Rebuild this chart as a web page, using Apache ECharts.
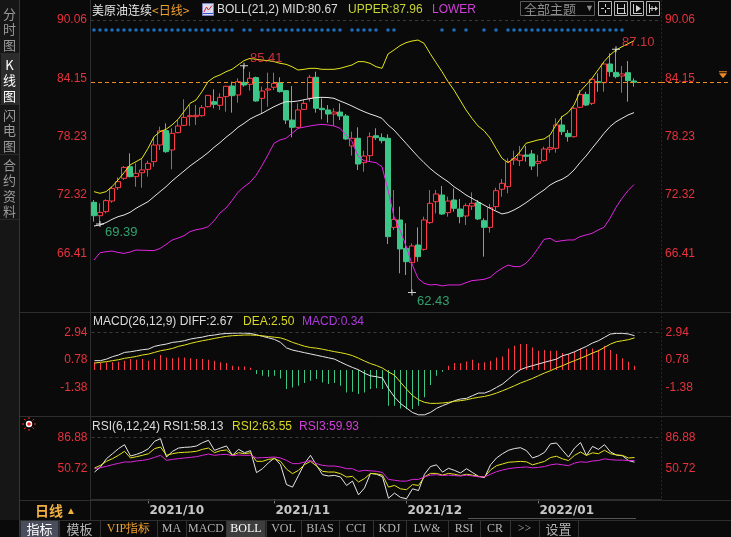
<!DOCTYPE html>
<html><head><meta charset="utf-8">
<script src="https://cdn.jsdelivr.net/npm/echarts@6/dist/echarts.min.js"></script>
<style>html,body{margin:0;padding:0;background:#0a0a0a;}#c{width:731px;height:537px;}</style>
</head><body><div id="c"></div>
<script>
// ---------------- DATA ----------------
const dates = [
 '2021/09/20','2021/09/21','2021/09/22','2021/09/23','2021/09/24','2021/09/27','2021/09/28','2021/09/29','2021/09/30',
 '2021/10/01','2021/10/04','2021/10/05','2021/10/06','2021/10/07','2021/10/08','2021/10/11','2021/10/12','2021/10/13','2021/10/14','2021/10/15',
 '2021/10/18','2021/10/19','2021/10/20','2021/10/21','2021/10/22','2021/10/25','2021/10/26','2021/10/27','2021/10/28','2021/10/29',
 '2021/11/01','2021/11/02','2021/11/03','2021/11/04','2021/11/05','2021/11/08','2021/11/09','2021/11/10','2021/11/11','2021/11/12',
 '2021/11/15','2021/11/16','2021/11/17','2021/11/18','2021/11/19','2021/11/22','2021/11/23','2021/11/24','2021/11/25','2021/11/26',
 '2021/11/29','2021/11/30',
 '2021/12/01','2021/12/02','2021/12/03','2021/12/06','2021/12/07','2021/12/08','2021/12/09','2021/12/10','2021/12/13','2021/12/14',
 '2021/12/15','2021/12/16','2021/12/17','2021/12/20','2021/12/21','2021/12/22','2021/12/23','2021/12/27','2021/12/28','2021/12/29',
 '2021/12/30','2021/12/31',
 '2022/01/03','2022/01/04','2022/01/05','2022/01/06','2022/01/07','2022/01/10','2022/01/11','2022/01/12','2022/01/13','2022/01/14',
 '2022/01/17','2022/01/18','2022/01/19','2022/01/20','2022/01/21','2022/01/24','2022/01/25'
];
// [open, close, low, high]
const candles = [
 [71.58,70.22,69.62,71.81],[70.22,70.56,69.39,71.48],[70.63,71.75,70.46,71.88],[71.71,72.99,71.54,73.16],[73.06,73.67,72.83,74.11],
 [74.01,75.12,73.84,75.26],[75.19,74.18,74.11,76.54],[74.18,74.52,73.16,75.53],[74.58,74.86,73.06,76.04],[74.92,75.53,74.18,75.80],
 [75.70,77.39,75.19,78.23],[77.39,78.81,76.88,79.25],[78.84,76.71,76.60,79.59],[76.88,78.57,74.92,79.08],[78.64,79.32,78.57,79.92],
 [79.38,80.19,79.30,82.02],[80.26,80.36,79.32,81.44],[80.26,80.40,79.42,81.44],[80.36,81.17,80.26,81.44],[81.27,82.42,81.20,82.46],
 [81.78,81.51,81.11,83.03],[81.41,82.22,80.94,82.63],[82.29,83.34,80.77,83.40],[83.37,82.39,80.67,83.81],[82.46,83.81,81.68,84.15],
 [83.74,83.47,83.30,85.41],[83.54,84.15,82.90,84.82],[84.22,81.85,81.78,84.32],[82.12,82.86,80.53,83.30],[82.96,83.07,81.27,84.72],
 [83.24,83.64,82.96,84.72],[83.71,82.80,82.70,84.25],[82.90,79.92,79.52,82.96],[79.92,79.18,78.17,83.37],[79.18,80.94,79.08,81.61],
 [81.00,81.61,80.94,81.95],[82.12,84.25,81.78,84.49],[84.25,81.11,80.67,84.82],[81.11,80.97,79.99,82.12],[80.94,80.53,79.65,81.44],
 [80.53,80.73,79.32,81.11],[80.73,80.33,79.92,81.61],[80.33,78.00,77.90,80.53],[77.29,78.07,76.31,78.74],[78.07,75.46,74.85,79.18],
 [75.60,76.27,74.68,76.81],[76.31,78.23,75.70,78.67],[78.33,78.13,77.90,79.08],[78.13,77.83,77.56,78.57],[78.07,68.10,67.35,78.47],
 [69.04,69.85,68.77,72.83],[69.79,66.85,64.38,71.14],[66.91,65.56,64.21,69.45],[65.46,67.15,62.43,67.42],[67.25,66.07,65.56,69.04],
 [66.81,69.79,66.68,70.12],[69.52,71.48,69.38,72.83],[71.64,72.42,70.46,72.83],[72.32,70.39,70.30,73.23],[70.53,71.71,70.12,72.15],
 [71.81,70.97,70.63,72.99],[70.90,70.12,69.45,71.92],[70.19,71.24,69.28,71.48],[71.20,71.48,70.80,72.59],[71.54,69.89,69.79,71.81],
 [69.72,69.04,66.07,69.96],[69.04,71.04,68.50,71.41],[71.14,72.76,70.80,73.06],[72.90,73.50,72.15,73.94],[73.17,75.70,72.49,76.04],
 [75.87,76.00,75.36,76.81],[75.80,76.37,75.26,77.29],[76.37,76.24,75.70,77.29],[76.48,75.26,74.85,76.88],[75.53,75.73,74.18,76.37],
 [75.80,76.98,75.70,77.22],[76.95,77.12,76.61,78.40],[77.05,79.42,76.61,80.09],[79.42,78.74,78.40,80.33],[78.57,78.23,77.73,78.91],
 [78.23,81.11,78.15,81.27],[81.21,82.52,81.11,82.96],[82.52,81.44,81.34,82.79],[81.61,84.05,81.44,84.15],[83.81,83.71,82.79,84.65],
 [83.71,85.60,82.79,85.77],[85.60,84.82,84.32,86.68],[84.75,84.32,84.15,87.10],[84.38,84.59,82.69,85.40],[84.72,83.91,81.78,85.90],
 [83.88,83.75,83.30,84.15]
];
const bollUpper = [
 72.66,72.49,72.66,73.16,73.84,74.58,75.36,75.70,76.04,77.05,
 78.23,78.74,78.98,79.42,79.99,80.77,81.61,81.95,82.80,83.81,
 84.25,84.49,84.82,85.06,85.50,85.94,86.17,86.07,86.00,85.94,
 85.84,85.67,85.57,85.33,84.99,85.06,85.16,85.16,85.06,85.06,
 85.06,85.16,85.33,85.50,85.84,85.84,85.67,85.33,85.16,86.61,
 87.02,87.46,87.76,87.93,88.03,87.70,86.68,85.74,84.82,83.81,
 82.96,81.95,80.94,80.09,79.32,78.84,78.10,77.05,76.04,75.60,
 76.04,76.71,77.56,77.73,77.90,78.00,78.40,79.42,80.26,80.67,
 81.44,82.80,83.47,84.15,84.99,85.84,86.51,87.02,87.35,87.65,87.96
];
const bollMid = [
 69.18,69.28,69.52,69.85,70.12,70.29,70.56,70.97,71.31,71.64,
 72.15,72.66,73.16,73.74,74.25,74.75,75.26,75.70,76.14,76.61,
 77.15,77.63,78.17,78.64,79.18,79.58,80.02,80.33,80.60,80.94,
 81.27,81.55,81.78,81.78,81.85,81.98,82.09,82.20,82.22,82.20,
 82.12,81.85,81.61,81.34,81.04,80.77,80.53,80.33,80.09,79.42,
 78.91,78.23,77.56,76.88,76.21,75.60,75.02,74.52,74.08,73.67,
 73.16,72.76,72.32,71.98,71.64,71.30,70.97,70.68,70.40,70.53,
 70.80,71.14,71.54,71.98,72.42,72.83,73.33,73.67,73.91,74.28,
 74.85,75.60,76.27,77.05,77.79,78.57,79.25,79.75,80.09,80.43,80.67
];
const bollLower = [
 65.73,66.47,66.57,66.64,66.50,66.40,66.54,66.74,66.72,66.70,
 66.68,66.90,67.30,67.75,67.95,68.20,68.60,68.80,68.90,69.10,
 69.70,70.50,71.00,71.75,72.60,73.15,73.60,74.30,75.30,76.40,
 77.56,77.90,78.07,78.57,79.08,79.20,79.32,79.42,79.48,79.42,
 79.32,79.08,78.40,77.73,76.27,75.80,75.70,75.60,75.19,72.83,
 70.12,68.77,67.15,65.33,63.87,63.37,63.20,63.25,63.10,63.20,
 63.20,63.20,63.43,63.64,63.70,63.77,63.97,64.48,64.89,65.22,
 65.06,65.06,65.40,66.07,66.91,67.82,67.93,67.59,67.69,67.76,
 67.76,68.10,68.27,68.43,68.77,69.04,69.95,71.07,71.98,72.76,73.38
];
const macdDiff = [
 0.73,0.73,0.85,1.04,1.17,1.37,1.42,1.50,1.58,1.63,
 1.84,1.94,2.02,2.15,2.20,2.28,2.41,2.49,2.56,2.67,
 2.72,2.80,2.84,2.86,2.87,2.87,2.84,2.74,2.62,2.50,
 2.38,2.15,1.72,1.55,1.45,1.35,1.25,1.15,1.05,0.95,
 0.85,0.62,0.40,0.20,0.02,-0.25,-0.45,-0.52,-0.62,-1.45,
 -2.10,-2.60,-2.95,-3.30,-3.48,-3.48,-3.29,-2.98,-2.77,-2.59,
 -2.38,-2.25,-2.20,-1.99,-1.79,-1.79,-1.61,-1.35,-1.09,-0.70,
 -0.31,0.03,0.21,0.34,0.47,0.60,0.73,0.85,1.11,1.24,
 1.42,1.63,1.84,2.10,2.28,2.54,2.80,2.85,2.85,2.80,2.67
];
const macdDea = [
 0.54,0.60,0.65,0.73,0.80,0.91,0.98,1.06,1.17,1.24,
 1.37,1.50,1.58,1.68,1.84,1.94,2.07,2.18,2.28,2.36,
 2.46,2.54,2.62,2.67,2.69,2.72,2.72,2.70,2.66,2.60,
 2.55,2.50,2.35,2.15,2.00,1.85,1.75,1.70,1.62,1.52,
 1.43,1.35,1.25,1.12,0.92,0.70,0.50,0.35,0.15,-0.15,
 -0.40,-0.95,-1.48,-1.98,-2.31,-2.51,-2.59,-2.59,-2.56,-2.51,
 -2.43,-2.38,-2.31,-2.20,-2.12,-2.05,-1.94,-1.79,-1.61,-1.42,
 -1.22,-1.01,-0.83,-0.65,-0.44,-0.23,-0.05,0.16,0.34,0.54,
 0.73,0.91,1.11,1.32,1.50,1.76,2.02,2.20,2.28,2.36,2.50
];
const macdHist = [
 0.60,0.54,0.60,0.60,0.65,0.73,0.85,0.80,0.85,0.73,
 0.85,1.17,0.98,0.91,0.98,0.98,0.91,0.85,0.85,0.80,
 0.73,0.60,0.54,0.34,0.28,0.28,0.18,-0.31,-0.44,-0.52,
 -0.44,-0.65,-1.48,-1.35,-1.22,-1.01,-0.83,-0.70,-0.96,-1.09,
 -1.01,-1.22,-1.74,-1.68,-1.87,-1.74,-1.48,-1.42,-1.48,-2.77,
 -2.77,-2.98,-3.03,-3.03,-2.77,-2.12,-1.17,-0.44,-0.13,0.34,
 0.54,0.52,0.67,0.80,0.54,0.60,0.73,0.98,1.06,1.68,
 1.89,2.02,2.02,1.76,1.50,1.55,1.50,1.50,1.32,1.24,
 1.42,1.68,1.63,1.68,1.58,1.89,1.55,1.24,0.91,0.65,0.34
];
const rsi1 = [
 46.6,52.5,62.2,68.0,73.9,78.5,65.3,67.2,69.9,73.9,
 82.4,85.5,64.1,70.7,74.6,75.4,75.8,77.0,80.9,83.6,
 71.9,74.6,77.0,66.1,73.1,69.2,71.5,45.9,50.5,57.5,
 62.9,55.2,32.0,29.0,42.7,56.4,66.1,54.4,43.5,42.0,
 42.7,40.8,31.0,36.0,20.0,28.0,45.0,44.0,41.0,16.0,
 22.0,17.0,15.5,27.0,25.0,44.0,53.0,55.0,46.5,51.0,
 48.5,45.5,50.5,46.0,41.5,40.0,55.0,63.0,68.0,72.0,
 74.0,75.0,71.5,63.0,65.5,69.5,79.5,80.5,72.0,64.0,
 74.5,81.0,66.0,76.5,73.0,78.5,70.0,66.5,65.5,60.0,58.13
];
const rsi2 = [
 51.3,54.4,59.1,62.2,66.1,70.8,63.0,64.5,66.1,68.0,
 73.9,75.8,66.1,68.0,69.2,69.6,70.0,70.8,73.1,74.6,
 69.2,71.5,72.3,66.1,69.2,68.0,69.0,59.1,59.1,61.4,
 62.2,59.1,50.0,44.7,48.6,55.2,59.1,53.6,47.4,46.6,
 46.6,44.7,40.8,41.5,35.0,39.0,45.0,44.5,43.0,29.0,
 31.0,27.0,26.0,32.0,31.0,41.0,45.0,45.0,43.0,45.0,
 44.0,42.5,44.0,43.0,41.5,41.0,49.0,54.0,56.0,58.0,
 58.5,59.0,58.5,55.0,57.0,59.0,63.5,65.0,62.0,60.0,
 66.0,70.0,66.0,69.0,68.0,72.0,68.0,66.5,66.0,63.0,63.55
];
const rsi3 = [
 50.5,51.7,53.2,55.2,56.7,58.3,58.3,59.5,60.2,61.4,
 63.7,66.1,60.2,61.4,62.2,63.0,63.7,64.5,66.1,67.6,
 66.1,66.9,67.2,65.7,66.5,66.1,66.1,63.0,63.4,63.7,
 64.1,63.0,60.2,56.4,56.4,58.3,60.2,56.4,54.4,53.6,
 53.6,52.5,50.5,50.5,47.4,48.6,48.0,47.5,46.0,38.0,
 37.0,36.0,36.0,38.0,38.0,41.0,43.0,43.5,42.5,43.0,
 42.5,42.0,43.0,42.0,41.0,41.0,44.0,47.0,49.0,50.5,
 51.5,52.0,52.5,51.5,52.0,53.0,55.0,56.0,55.0,54.0,
 57.0,58.5,58.0,59.5,60.0,62.0,61.0,60.5,60.5,60.0,59.93
];
const priceTicks = [66.41, 72.32, 78.23, 84.15, 90.06];
const macdTicks = [-1.38, 0.78, 2.94];
const rsiTicks = [50.72, 86.88];
// candles that carry a blue signal dot on the top row
const signalDots = [0,1,2,3,4,5,6,7,8,9,10,11,12,13,14,15,16,17,18,19,20,21,22,23,25,26,
 28,29,30,31,32,33,34,35,36,37,38,39,40,41,43,44,45,46,47,49,50,58,60,62,65,67,
 69,70,71,72,73,74,75,76,77,78,79,80,81,82,83,84,85,86,87,88];
const extremes = [{idx:1,type:'low'},{idx:25,type:'high'},{idx:53,type:'low'},{idx:87,type:'high'}];
const legendVals = {mid:'80.67', upper:'87.96', diff:'2.67', dea:'2.50', macd:'0.34', rsi1:'58.13', rsi2:'63.55', rsi3:'59.93'};

// ---------------- STYLE ----------------
const BG = '#0a0a0a', RED = '#fe3b46', GREEN = '#3cc687', YEL = '#e4e41c', WHT = '#e6e6e6', MAG = '#e024e0';
const AXRED = '#e8323c';
const LATIN = '"Liberation Sans", Arial, "Noto Sans CJK SC", sans-serif';
const CJK = '"Noto Sans CJK SC", "Liberation Sans", sans-serif';

const cats = dates.concat(['~1','~2','~3','~4']);
const monthStarts = [];
for (let i = 1; i < dates.length; i++) if (dates[i].slice(0,7) !== dates[i-1].slice(0,7)) monthStarts.push(i);
const lastClose = candles[candles.length-1][1];

const chart = echarts.init(document.getElementById('c'), null, {renderer:'canvas', width:731, height:537});

function xAx(k){
  const show = k === 2;
  return {type:'category', gridIndex:k, data:cats, boundaryGap:true,
    axisLine:{show:show, lineStyle:{color:'#2e2e2e'}},
    axisTick:{show:show, interval:(i)=>monthStarts.includes(i), alignWithLabel:true, length:4, lineStyle:{color:'#777'}},
    axisLabel:{show:show, interval:(i)=>monthStarts.includes(i), formatter:(v)=>v.slice(0,7),
      color:'#c8c8c8', fontFamily:'"DejaVu Sans", sans-serif', fontWeight:'bold', fontSize:12, align:'left', margin:5, padding:[0,0,0,1]},
    splitLine:{show:false}};
}
function yAx(k, pos, min, max, ticks){
  return {type:'value', gridIndex:k, position:pos, min:min, max:max,
    axisLine:{show:false}, axisTick:{show:false}, splitLine:{show:false},
    axisLabel:{show:true, customValues:ticks, formatter:(v)=>v.toFixed(2), color:AXRED, fontSize:12, fontFamily:LATIN, margin:4}};
}
const crossPath = 'path://M0,2.5h8v1h-8z M3.5,0h1v6h-1z';

const option = {
  backgroundColor: BG,
  animation: false,
  grid: [
    {left:91, width:570, top:14, height:297.6},
    {left:91.5, width:570, top:314, height:101.6},
    {left:91.5, width:570, top:418, height:81.5}
  ],
  xAxis: [xAx(0), xAx(1), xAx(2)],
  yAxis: [
    yAx(0,'left',60.50,90.668,priceTicks), yAx(0,'right',60.50,90.668,priceTicks),
    yAx(1,'left',-3.54,4.354,macdTicks), yAx(1,'right',-3.54,4.354,macdTicks),
    yAx(2,'left',14.56,109.63,rsiTicks), yAx(2,'right',14.56,109.63,rsiTicks)
  ],
  series: [
    {type:'candlestick', xAxisIndex:0, yAxisIndex:0, data:candles, barWidth:5,
      itemStyle:{color:BG, color0:GREEN, borderColor:RED, borderColor0:GREEN, borderWidth:1},
      markLine:{silent:true, symbol:['none','none'], label:{show:false},
        lineStyle:{color:'#f08a24', type:[4,3], width:1}, data:[{yAxis:lastClose}]}},
    {type:'line', xAxisIndex:0, yAxisIndex:0, data:bollUpper, symbol:'none', lineStyle:{color:YEL, width:1}, z:3,
      markLine:{silent:true, symbol:['none','none'], label:{show:false},
        lineStyle:{color:'#3a3a3a', type:[3,3], width:1}, data:[{yAxis:priceTicks[priceTicks.length-1]}]}},
    {type:'line', xAxisIndex:0, yAxisIndex:0, data:bollMid, symbol:'none', lineStyle:{color:WHT, width:1}, z:3},
    {type:'line', xAxisIndex:0, yAxisIndex:0, data:bollLower, symbol:'none', lineStyle:{color:MAG, width:1}, z:3},
    {type:'scatter', xAxisIndex:0, yAxisIndex:0, symbol:'circle', symbolSize:3.6, z:4,
      itemStyle:{color:'#2284e6'}, data:signalDots.map(i=>[i, 89.05])},
    {type:'scatter', xAxisIndex:0, yAxisIndex:0, symbol:crossPath, symbolSize:[8,6], z:6,
      itemStyle:{color:'#ffffff'},
      data: extremes.map(e => {
        const v = e.type === 'high' ? candles[e.idx][3] : candles[e.idx][2];
        return {value:[e.idx, v], label:{show:true, formatter:(p)=>p.value[1].toFixed(2),
          color: e.type === 'high' ? RED : GREEN, fontSize:13, fontFamily:LATIN,
          position: e.type === 'high' ? [10,-4] : [9,12], align:'left', verticalAlign:'middle'}};
      })},
    {type:'bar', xAxisIndex:1, yAxisIndex:2, barWidth:1,
      data: macdHist.map(v => ({value:v, itemStyle:{color: v >= 0 ? RED : GREEN}})),
      markLine:{silent:true, symbol:['none','none'], label:{show:false},
        lineStyle:{color:'#3a3a3a', type:[3,3], width:1}, data:[{yAxis:macdTicks[macdTicks.length-1]}]}},
    {type:'line', xAxisIndex:1, yAxisIndex:2, data:macdDiff, symbol:'none', lineStyle:{color:WHT, width:1}, z:3},
    {type:'line', xAxisIndex:1, yAxisIndex:2, data:macdDea, symbol:'none', lineStyle:{color:YEL, width:1}, z:3},
    {type:'line', xAxisIndex:2, yAxisIndex:4, data:rsi1, symbol:'none', lineStyle:{color:WHT, width:1}, z:3,
      markLine:{silent:true, symbol:['none','none'], label:{show:false},
        lineStyle:{color:'#3a3a3a', type:[3,3], width:1}, data:[{yAxis:rsiTicks[rsiTicks.length-1]}]}},
    {type:'line', xAxisIndex:2, yAxisIndex:4, data:rsi2, symbol:'none', lineStyle:{color:YEL, width:1}, z:3},
    {type:'line', xAxisIndex:2, yAxisIndex:4, data:rsi3, symbol:'none', lineStyle:{color:MAG, width:1}, z:3}
  ]
};
chart.setOption(option);

// ---------------- DECORATION ----------------
const g = [];
function L(x1,y1,x2,y2,stroke,dash,z){ g.push({type:'line', silent:true, z:z||1, shape:{x1:x1,y1:y1,x2:x2,y2:y2}, style:{stroke:stroke, lineWidth:1, lineDash:dash||null}}); }
function R(x,y,w,h,fill,stroke,z){ g.push({type:'rect', silent:true, z:z||0, shape:{x:x,y:y,width:w,height:h}, style:{fill:fill||'none', stroke:stroke||null, lineWidth:1}}); }
function T(x,y,t,color,font,align,z,extra){ g.push({type:'text', silent:true, z:z||10, x:x, y:y,
  style:Object.assign({text:t, fill:color, font:font, textAlign:align||'left', textVerticalAlign:'middle'}, extra||{})}); }

// left sidebar
R(0,0,19,520,'#161616',null,0);
L(19.5,0,19.5,537,'#363636');
R(1,54,18,50,'#2c2c2c',null,0);
const side = [['分\n时\n图',6,'#9a9a9a'],['K\n线\n图',57,'#ffffff'],['闪\n电\n图',107,'#9a9a9a'],['合\n约\n资\n料',157,'#9a9a9a']];
side.forEach(s => g.push({type:'text', silent:true, z:10, x:9.5, y:s[1],
  style:{text:s[0], fill:s[2], font:'13px '+CJK, textAlign:'center', textVerticalAlign:'top', lineHeight:15.5}}));
[53.5,104.5,154.5,219.5].forEach(y => L(0,y,19,y,'#2a2a2a'));

// panel frame lines
L(90.5,0,90.5,520,'#2e2e2e');
L(661.5,0,661.5,500,'#262626',[2,2]);
[312.5,416.5,500.5,520.5].forEach(y => L(20,y,731,y,'#2e2e2e'));

// main legend
T(92,10,'美原油连续',WHT,'12px '+CJK);
T(152,10,'<日线>','#f0a030','12px '+CJK);
R(202.5,3.5,11,12,'#dcdcf0','#8080c0',5);
g.push({type:'polyline', silent:true, z:6, shape:{points:[[204,12],[206.5,7],[208.5,10],[212,5.5]]}, style:{stroke:'#e02020', lineWidth:1, fill:'none'}});
L(203,13.5,213,13.5,'#3050d0',null,6);
T(217,10,'BOLL(21,2) MID:'+legendVals.mid,'#dcdcdc','12px '+LATIN);
T(348,10,'UPPER:'+legendVals.upper,'#c8d434','12px '+LATIN);
T(432,10,'LOWER','#d040d8','12px '+LATIN);

// macd legend
T(93,322,'MACD(26,12,9) DIFF:'+legendVals.diff,'#dcdcdc','12px '+LATIN);
T(243,322,'DEA:'+legendVals.dea,'#d8d820','12px '+LATIN);
T(302,322,'MACD:'+legendVals.macd,'#b038e0','12px '+LATIN);

// rsi legend
T(92,427,'RSI(6,12,24) RSI1:'+legendVals.rsi1,'#dcdcdc','12px '+LATIN);
T(232,427,'RSI2:'+legendVals.rsi2,'#d8d820','12px '+LATIN);
T(299,427,'RSI3:'+legendVals.rsi3,'#d040d8','12px '+LATIN);

// rsi icon
g.push({type:'circle', silent:true, z:6, shape:{cx:29,cy:424,r:3.2}, style:{fill:'#ffffff'}});
g.push({type:'circle', silent:true, z:7, shape:{cx:29,cy:424,r:1.8}, style:{fill:'#ff1a1a'}});
for (let a = 0; a < 8; a++) {
  const an = a*Math.PI/4;
  L(29+Math.cos(an)*5,424+Math.sin(an)*5,29+Math.cos(an)*7,424+Math.sin(an)*7,'#ff2020',null,6);
}

// top right buttons
R(520.5,1.5,74,14,null,'#5a5a5a',5);
T(524,9,'全部主题','#8c8c8c','13px '+CJK);
T(585,9,'▼','#8c8c8c','9px '+LATIN);
[598.5,614.5,630.5,646.5].forEach(x => R(x,1.5,13,14,null,'#b4b4b4',5));
L(601,8.5,604,8.5,'#d0d0d0',null,6); L(607,8.5,610,8.5,'#d0d0d0',null,6);
L(605.5,4,605.5,7,'#d0d0d0',null,6); L(605.5,10,605.5,13,'#d0d0d0',null,6);
L(617.5,4,617.5,13,'#d0d0d0',null,6); L(624.5,4,624.5,13,'#d0d0d0',null,6); L(618,8.5,624,8.5,'#d0d0d0',null,6); L(617,13.5,626,13.5,'#d0d0d0',null,6);
L(633.5,4,633.5,13,'#d0d0d0',null,6); L(633,13.5,642,13.5,'#d0d0d0',null,6);
g.push({type:'polygon', silent:true, z:6, shape:{points:[[636,5],[641,8.5],[636,12]]}, style:{fill:'#d0d0d0'}});
L(649.5,4,649.5,13,'#d0d0d0',null,6); L(650,8.5,657,8.5,'#d0d0d0',null,6); L(652,6,652,11,'#d0d0d0',null,6);
g.push({type:'polygon', silent:true, z:6, shape:{points:[[655,6],[658,8.5],[655,11]]}, style:{fill:'#d0d0d0'}});

// date row / bottom tabs
T(35,511,'日线','#f0b040','bold 14px '+CJK);
T(66,511,'▲','#f0b040','10px '+LATIN);
L(468,518.5,636,518.5,'#555555');
const tabs = ['指标','模板','VIP指标','MA','MACD','BOLL','VOL','BIAS','CCI','KDJ','LW&','RSI','CR','>>','设置'];
const edges = [20,59,100,157,186,226,266,301,339,373,406,448,480,510,539,578];
tabs.forEach((t,k) => {
  const x0 = edges[k], x1 = edges[k+1];
  let fill = null, col = '#b4b4b4';
  if (t === '指标') { fill = '#4a4e5c'; col = '#ffffff'; }
  if (t === 'BOLL') { fill = '#3e3e3e'; col = '#ffffff'; }
  if (t === 'VIP指标') col = '#f0a030';
  if (fill) R(x0+0.5,521,x1-x0-1,16,fill,null,0);
  L(x1+0.5,521,x1+0.5,537,'#333333');
  const isCjk = /[\u4e00-\u9fff]/.test(t) && t.length <= 2;
  T((x0+x1)/2,529,t,col,(isCjk?'13px '+CJK:'12px "Liberation Serif", serif'),'center');
});

// last price extension into the right axis area
const yLast = chart.convertToPixel({yAxisIndex:0}, lastClose);
L(661,Math.round(yLast)+0.5,731,Math.round(yLast)+0.5,'#f08a24',[4,3],3);
g.push({type:'polygon', silent:true, z:6, shape:{points:[[719,yLast-9],[727,yLast-9],[723,yLast-4]]}, style:{fill:'#f08a24'}});
L(719,yLast-10.5,727,yLast-10.5,'#f08a24',null,6);

chart.setOption({graphic: g});
</script>
</body></html>
